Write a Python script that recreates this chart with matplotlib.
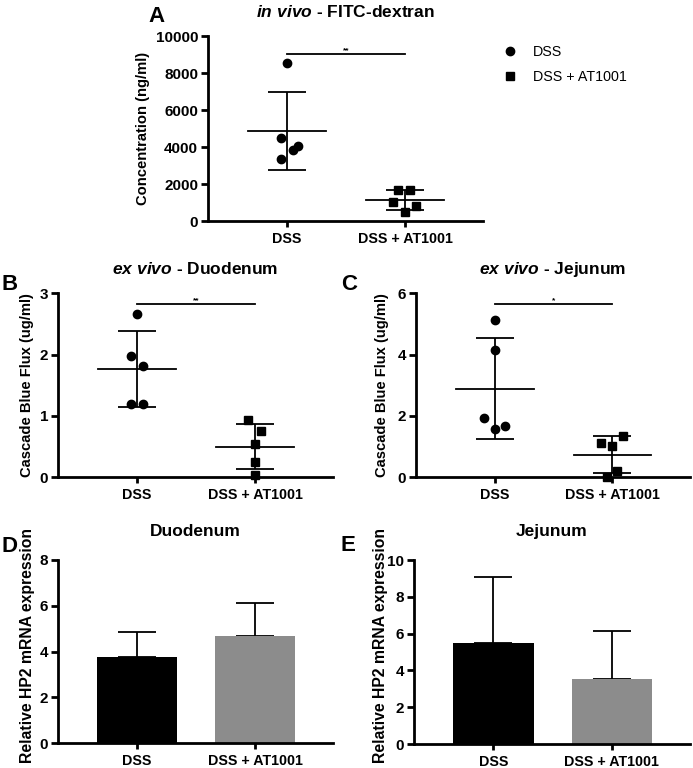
import numpy as np
import matplotlib
matplotlib.use("Agg")
from matplotlib import pyplot as plt

plt.rcParams['font.family'] = ['Liberation Sans', 'DejaVu Sans']
plt.rcParams['mathtext.fontset'] = 'custom'
plt.rcParams['mathtext.it'] = 'Liberation Sans:italic:bold'
plt.rcParams['mathtext.rm'] = 'Liberation Sans:bold'

groups = ['DSS', 'DSS + AT1001']

# A - in vivo FITC-dextran (ng/ml)
a_dss = [8550, 4470, 4050, 3850, 3350]
a_at = [1700, 1680, 1050, 820, 500]
a_dss_jit = [0.0, -0.05, 0.093, 0.048, -0.05]
a_at_jit = [-0.056, 0.042, -0.099, 0.093, 0.0]

# B - ex vivo duodenum (ug/ml)
b_dss = [2.66, 1.97, 1.82, 1.19, 1.19]
b_at = [0.94, 0.755, 0.54, 0.245, 0.03]
b_dss_jit = [0.0, -0.048, 0.048, -0.048, 0.048]
b_at_jit = [-0.056, 0.048, 0.0, 0.0, 0.0]

# C - ex vivo jejunum (ug/ml)
c_dss = [5.13, 4.15, 1.92, 1.67, 1.565]
c_at = [1.35, 1.11, 1.03, 0.21, 0.0]
c_dss_jit = [0.0, 0.0, -0.096, 0.087, 0.0]
c_at_jit = [0.093, -0.093, 0.0, 0.042, -0.048]

# D / E - relative HP2 mRNA expression (mean, sd)
d_mean = [3.75, 4.70]
d_sd = [1.12, 1.44]
e_mean = [5.48, 3.53]
e_sd = [3.58, 2.64]

bar_colors = ['black', '#8c8c8c']


def style_axes(ax, yticks):
    for s in ['top', 'right']:
        ax.spines[s].set_visible(False)
    for s in ['left', 'bottom']:
        ax.spines[s].set_linewidth(2)
    ax.set_xlim(-0.67, 1.66)
    ax.set_ylim(yticks[0], yticks[-1])
    ax.set_yticks(yticks)
    ax.set_xticks([0, 1])
    ax.set_xticklabels(groups, fontweight='bold', fontsize=10.3)
    ax.tick_params(axis='y', width=2, length=5, labelsize=11, pad=2)
    ax.tick_params(axis='x', width=2, length=4, pad=4)
    for lab in ax.get_yticklabels():
        lab.set_fontweight('bold')


def scatter_panel(ax, dss, at, dss_jit, at_jit, yticks, ylabel, sig_y, stars):
    for i, (vals, jit, mk, ms) in enumerate([(dss, dss_jit, 'o', 6),
                                            (at, at_jit, 's', 5.5)]):
        vals = np.array(vals)
        ax.plot(i + np.array(jit), vals, mk, color='black', ms=ms, clip_on=False, zorder=3)
        m = vals.mean()
        sd = vals.std(ddof=1)
        ax.plot([i - 0.33, i + 0.33], [m, m], color='black', lw=1.3)
        ax.errorbar(i, m, yerr=sd, color='black', lw=1.3, capsize=14, capthick=1.3)
    ax.plot([0, 1], [sig_y, sig_y], color='black', lw=1.3)
    ax.text(0.5, sig_y, stars, ha='center', va='bottom', fontsize=6, fontweight='bold')
    style_axes(ax, yticks)
    ax.set_ylabel(ylabel, fontweight='bold', fontsize=10.6)


def bar_panel(ax, means, sds, yticks, title):
    for i in range(2):
        ax.bar(i, means[i], width=0.68, color=bar_colors[i], zorder=2)
        ax.errorbar(i, means[i], yerr=[[0], [sds[i]]], color='black', lw=1.3,
                    capsize=14, capthick=1.3, zorder=1)
    style_axes(ax, yticks)
    ax.set_ylabel('Relative HP2 mRNA expression', fontweight='bold', fontsize=11.3)
    ax.set_title(title, fontweight='bold', fontsize=12.5, pad=17)


fig = plt.figure(figsize=(6.93, 7.68), dpi=100)

axA = fig.add_axes([0.3001, 0.7122, 0.3968, 0.2409])
scatter_panel(axA, a_dss, a_at, a_dss_jit, a_at_jit, [0, 2000, 4000, 6000, 8000, 10000],
              'Concentration (ng/ml)', 9010, '**')
axA.yaxis.set_label_coords(-0.21, 0.5)
axA.set_title(r'$\mathit{in\ vivo}$ - FITC-dextran', fontweight='bold', fontsize=12.5, pad=14)
axA.plot([], [], 'o', color='black', ms=6, label='DSS')
axA.plot([], [], 's', color='black', ms=5.5, label='DSS + AT1001')
axA.legend(loc='upper left', bbox_to_anchor=(1.0, 1.02), frameon=False, fontsize=10.3,
           handletextpad=0.6, labelspacing=0.75, bbox_transform=axA.transAxes)

axB = fig.add_axes([0.0837, 0.3785, 0.3968, 0.2396])
scatter_panel(axB, b_dss, b_at, b_dss_jit, b_at_jit, [0, 1, 2, 3],
              'Cascade Blue Flux (ug/ml)', 2.82, '**')
axB.yaxis.set_label_coords(-0.089, 0.5)
axB.set_title(r'$\mathit{ex\ vivo}$ - Duodenum', fontweight='bold', fontsize=12.5, pad=14)

axC = fig.add_axes([0.6003, 0.3785, 0.3954, 0.2396])
scatter_panel(axC, c_dss, c_at, c_dss_jit, c_at_jit, [0, 2, 4, 6],
              'Cascade Blue Flux (ug/ml)', 5.64, '*')
axC.yaxis.set_label_coords(-0.10, 0.5)
axC.set_title(r'$\mathit{ex\ vivo}$ - Jejunum', fontweight='bold', fontsize=12.5, pad=14)

axD = fig.add_axes([0.0837, 0.0322, 0.3968, 0.2387])
bar_panel(axD, d_mean, d_sd, [0, 2, 4, 6, 8], 'Duodenum')
axD.yaxis.set_label_coords(-0.084, 0.535)

axE = fig.add_axes([0.5974, 0.0312, 0.3983, 0.2396])
bar_panel(axE, e_mean, e_sd, [0, 2, 4, 6, 8, 10], 'Jejunum')
axE.yaxis.set_label_coords(-0.094, 0.535)

# panel letters
for lbl, x, y in [('A', 0.214, 0.979), ('B', 0.002, 0.629), ('C', 0.492, 0.629),
                  ('D', 0.002, 0.289), ('E', 0.492, 0.29)]:
    fig.text(x, y, lbl, fontsize=16, fontweight='bold', ha='left', va='center')

plt.savefig('out.png', dpi=100)
